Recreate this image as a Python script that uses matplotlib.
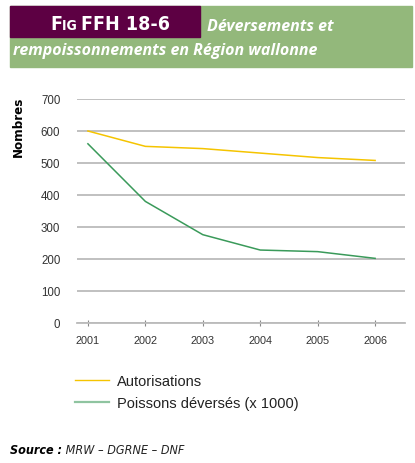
import matplotlib
matplotlib.use("Agg")
import matplotlib.pyplot as plt
from matplotlib.patches import Rectangle
from matplotlib.lines import Line2D

# data
years = [2001, 2002, 2003, 2004, 2005, 2006]
autorisations = [600, 552, 545, 531, 517, 508]
poissons = [560, 380, 276, 228, 223, 202]
yticks = [0, 100, 200, 300, 400, 500, 600, 700]

plt.rcParams['font.family'] = ['Liberation Sans', 'DejaVu Sans']

fig = plt.figure(figsize=(4.15, 4.64), dpi=100)
W, H = 415, 464
renderer = fig.canvas.get_renderer()

def fx(px):
    return px / W

def fy(py):
    return 1 - py / H

def run_text(x_px, y_px, pieces):
    # pieces of text placed one after another on the same baseline
    x = x_px
    for s, kw in pieces:
        t = fig.text(fx(x), fy(y_px), s, va='baseline', **kw)
        x = t.get_window_extent(renderer).x1

# header band
fig.patches.append(Rectangle((fx(10), fy(68)), fx(402), 61 / H, transform=fig.transFigure,
                             color='#93b87b', zorder=0))
fig.patches.append(Rectangle((fx(10), fy(38)), fx(190), 31 / H, transform=fig.transFigure,
                             color='#5d0043', zorder=1))
hdr = dict(color='white', fontweight='bold', fontstretch='condensed',
           family=['DejaVu Sans', 'Liberation Sans'])
run_text(50, 30, [('F', dict(fontsize=14, **hdr)),
                  ('IG ', dict(fontsize=10, **hdr)),
                  ('FFH 18-6', dict(fontsize=14, **hdr))])
ttl = dict(color='white', fontweight='bold', style='italic', fontsize=11.5, va='baseline',
           family=['Open Sans', 'DejaVu Sans'])
fig.text(fx(207), fy(31), 'Déversements et', **ttl)
fig.text(fx(13), fy(55), 'rempoissonnements en Région wallonne', **ttl)

ax = fig.add_axes([fx(77), fy(324), fx(328), 224 / H])
ax.plot(years, autorisations, color='#f5c400', lw=1.1)
ax.plot(years, poissons, color='#3a9a5a', lw=1.1)
ax.set_xlim(2000.81, 2006.52)
ax.set_ylim(0, 700)
ax.set_yticks(yticks)
ax.set_xticks(years)
ax.grid(axis='y', color='#bbbbbb', lw=1.3)
ax.set_axisbelow(True)
for s in ['top', 'right', 'left']:
    ax.spines[s].set_visible(False)
ax.spines['bottom'].set_color('#bbbbbb')
ax.spines['bottom'].set_linewidth(1.3)
ax.tick_params(axis='y', length=0, pad=12, labelsize=8.3, labelcolor='#333333')
ax.tick_params(axis='x', length=4, direction='inout', color='#888888', pad=7,
               labelsize=7.8, labelcolor='#333333')
fig.text(fx(18), fy(97), 'Nombres', rotation=90, fontsize=9.5, fontweight='bold',
         fontstretch='condensed', family=['DejaVu Sans'], va='top', ha='center')

handles = [Line2D([], [], color='#f5c400', lw=1),
           Line2D([], [], color='#8fc4a0', lw=1.6)]
fig.legend(handles, ['Autorisations', 'Poissons déversés (x 1000)'],
           loc='upper left', bbox_to_anchor=(fx(62), fy(362)), frameon=False,
           prop={'size': 10.5, 'family': ['Liberation Sans', 'DejaVu Sans']},
           handlelength=2.3, handletextpad=0.6, labelspacing=0.55,
           labelcolor='#222222')

run_text(10, 454, [('Source :', dict(fontsize=9, fontweight='bold', style='italic',
                                     fontstretch='condensed', family=['DejaVu Sans'])),
                   (' MRW – DGRNE – DNF', dict(fontsize=9, style='italic', color='#222222',
                                              fontstretch='condensed', family=['DejaVu Sans']))])

fig.savefig('out.png', dpi=100)
